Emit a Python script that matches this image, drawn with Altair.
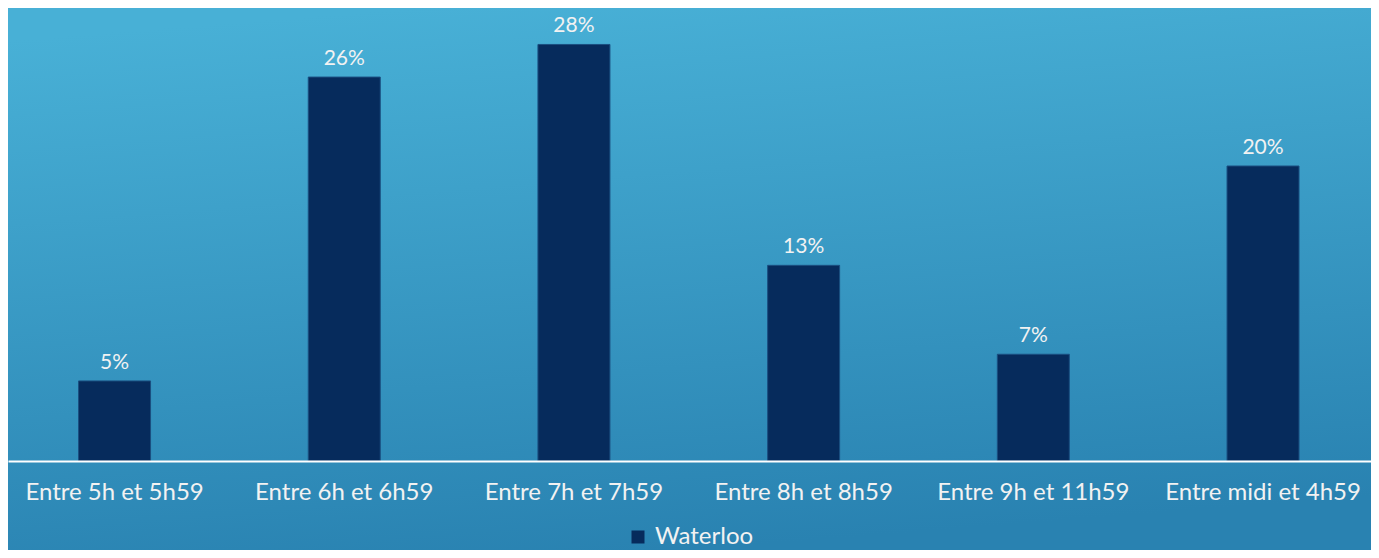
import altair as alt
import pandas as pd

categories = ["Entre 5h et 5h59", "Entre 6h et 6h59", "Entre 7h et 7h59",
              "Entre 8h et 8h59", "Entre 9h et 11h59", "Entre midi et 4h59"]
values = [0.054, 0.259, 0.281, 0.132, 0.072, 0.199]
series = ["Waterloo"] * 6

df = pd.DataFrame({"cat": categories, "val": values, "series": series})

W, H, TOP, BOTTOM = 1363, 441, 12, 89
FONT = "Lato"

bg = alt.Chart(alt.Data(values=[{"a": 1}])).mark_rect(
    color=alt.LinearGradient(
        gradient="linear", x1=0.3, y1=0, x2=0.5, y2=1,
        stops=[alt.GradientStop(offset=0, color="#48B0D6"),
               alt.GradientStop(offset=1, color="#2982B1")]
    )
).encode(x=alt.value(0), x2=alt.value(W), y=alt.value(-TOP), y2=alt.value(H + BOTTOM))

xenc = alt.X("cat:N", sort=categories,
             scale=alt.Scale(paddingInner=0.6866, paddingOuter=0.3103, align=0.495),
             axis=alt.Axis(title=None, labelAngle=0, ticks=False, domainColor="white",
                           domainWidth=2, labelColor="#F2F2F2", labelFontSize=24,
                           labelFont=FONT, labelPadding=19, labelLimit=400,
                           grid=False, zindex=2))
yenc = alt.Y("val:Q", scale=alt.Scale(domain=[0, 0.2975], nice=False), axis=None)

bars = alt.Chart(df).mark_bar(stroke="#1B4F80", strokeWidth=1).encode(
    x=xenc, y=yenc,
    color=alt.Color("series:N", scale=alt.Scale(range=["#062B5C"]),
                    legend=alt.Legend(title=None, orient="none", legendX=618, legendY=505,
                                      symbolType="square", symbolSize=169,
                                      symbolStrokeWidth=0, zindex=2,
                                      labelFontSize=24, labelColor="#F2F2F2",
                                      labelFont=FONT, labelOffset=5))
)

text = alt.Chart(df).mark_text(baseline="alphabetic", dy=-12, fontSize=21, color="#F2F2F2",
                               font=FONT).encode(
    x=alt.X("cat:N", sort=categories), y="val:Q",
    text=alt.Text("val:Q", format=".0%")
)

chart = alt.layer(bg, bars, text).properties(
    width=W, height=H,
    autosize=alt.AutoSizeParams(type="none"),
    padding={"left": 0, "top": TOP, "right": 0, "bottom": BOTTOM},
    background="#3A9ACA"
).configure_view(stroke=None)

chart.save("out.html", embed_options={"renderer": "svg", "actions": False})
